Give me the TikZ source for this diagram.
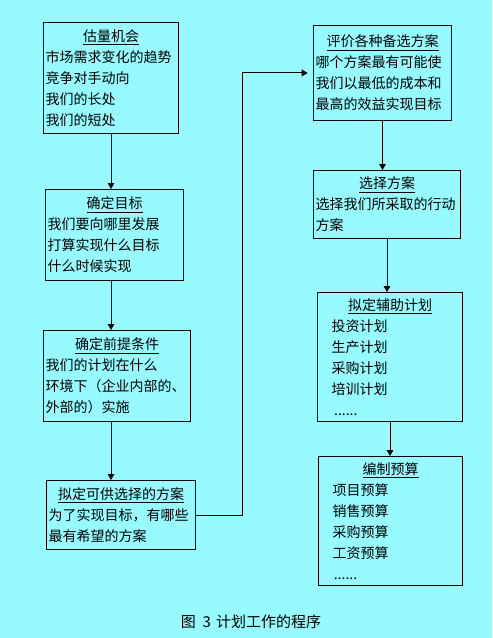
\documentclass[tikz,border=0pt]{standalone}
\usepackage{fontspec}
\setmainfont{Noto Sans CJK SC}
\usetikzlibrary{arrows.meta,positioning,calc}
\definecolor{fond}{RGB}{150,250,255}
\tikzset{
  etape/.style n args={2}{draw, line width=0.75pt, anchor=north west,
    inner xsep=1.5pt, inner ysep=0pt, text width=#1, minimum height=#2,
    align=left, font=\fontsize{10.5}{15.75}\selectfont},
  fleche/.style={line width=0.75pt, -{Triangle[width=5pt,length=4.5pt]}},
}
\newcommand{\titre}[1]{\makebox[\linewidth]{\underline{#1}}}

\begin{document}
\begin{tikzpicture}[x=0.75pt,y=-0.75pt]
    % Fond
    \fill[fond] (0,0) rectangle (492,638);
    \useasboundingbox (0,0) rectangle (492,638);

    % Colonne de gauche
    \node[etape={98.25pt}{83.25pt}] (b1) at (43,22) {\titre{估量机会}\\
      市场需求变化的趋势\\竞争对手动向\\我们的长处\\我们的短处};
    \node[etape={100.5pt}{68.25pt}] (b2) at (45,189) {\titre{确定目标}\\
      我们要向哪里发展\\打算实现什么目标\\什么时候实现};
    \node[etape={107.25pt}{68.25pt}] (b3) at (43,330) {\titre{确定前提条件}\\
      我们的计划在什么\\环境下（企业内部的、\\外部的）实施};
    \node[etape={108.75pt}{51.75pt}] (b4) at (46,480) {\titre{拟定可供选择的方案}\\
      为了实现目标，有哪些\\最有希望的方案};

    % Colonne de droite
    \node[etape={100.5pt}{71.25pt}] (b5) at (313,25) {\titre{评价各种备选方案}\\
      哪个方案最有可能使\\我们以最低的成本和\\最高的效益实现目标};
    \node[etape={107.25pt}{51pt}] (b6) at (313,170) {\titre{选择方案}\\
      选择我们所采取的行动\\方案};
    \node[etape={105.75pt}{96.75pt}] (b7) at (317,292) {\titre{拟定辅助计划}\\
      \hspace*{9pt}投资计划\\\hspace*{9pt}生产计划\\\hspace*{9pt}采购计划\\
      \hspace*{9pt}培训计划\\\hspace*{11pt}......};
    \node[etape={105pt}{96.75pt}] (b8) at (318,456) {\titre{编制预算}\\
      \hspace*{9pt}项目预算\\\hspace*{9pt}销售预算\\\hspace*{9pt}采购预算\\
      \hspace*{9pt}工资预算\\\hspace*{10pt}......};

    % Légende
    \node[font=\fontsize{11.25}{13}\selectfont] (legende) at (251,622)
      {图\hspace{5pt}3\hspace{4pt}计划工作的程序};

    % Flèches
    \coordinate (coude) at (242,0);
    \draw[fleche] (b1.south) -- (b1.south |- b2.north);
    \draw[fleche] (b2.south -| b1.south) -- (b1.south |- b3.north);
    \draw[fleche] (b3.south -| b1.south) -- (b1.south |- b4.north);
    \draw[fleche, shorten >=4pt] (b4.east) -- (b4.east -| coude) |- (b5.west);
    \draw[fleche] (b5.south) -- (b5.south |- b6.north);
    \draw[fleche] (b6.south) -- (b6.south |- b7.north);
    \draw[fleche] (b7.south) -- (b7.south |- b8.north);

\end{tikzpicture}
\end{document}
